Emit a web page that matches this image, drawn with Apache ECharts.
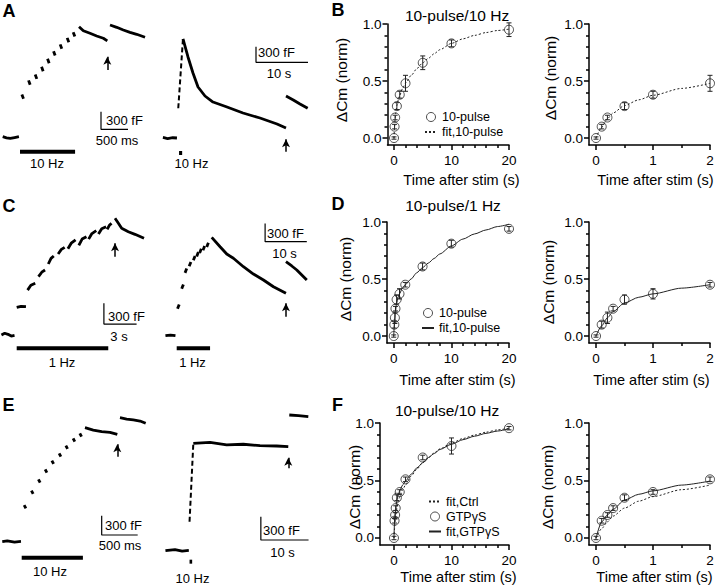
<!DOCTYPE html>
<html><head><meta charset="utf-8">
<script src="https://cdn.jsdelivr.net/npm/echarts@6/dist/echarts.min.js"></script>
<style>html,body{margin:0;padding:0;background:#fff}#c{width:720px;height:588px}</style>
</head><body><div id="c"></div>
<script>
// ================= DATA =================
// Normalized ΔCm vs time after stim (s)
const bTime = [0, 0.1, 0.2, 0.5, 1, 2, 5, 10, 20];
const bMean = [0, 0.10, 0.18, 0.28, 0.38, 0.48, 0.66, 0.83, 0.95];
const bErr  = [0.01, 0.02, 0.02, 0.03, 0.03, 0.07, 0.06, 0.03, 0.06];
const bFitTime = [0, 0.1, 0.2, 0.3, 0.5, 0.75, 1, 1.5, 2, 3, 4, 5, 6, 7, 8, 10, 12, 14, 16, 18, 20];
const bFitVal  = [0, 0.095, 0.17, 0.22, 0.285, 0.335, 0.375, 0.435, 0.48, 0.55, 0.61, 0.66, 0.70, 0.74, 0.775, 0.83, 0.87, 0.90, 0.925, 0.943, 0.955];

const dTime = [0, 0.1, 0.2, 0.3, 0.5, 1, 2, 5, 10, 20];
const dMean = [0, 0.10, 0.16, 0.24, 0.32, 0.37, 0.45, 0.61, 0.81, 0.94];
const dErr  = [0.01, 0.03, 0.05, 0.02, 0.04, 0.045, 0.02, 0.03, 0.03, 0.02];
const dFitTime = [0, 0.1, 0.2, 0.3, 0.5, 0.75, 1, 1.5, 2, 3, 4, 5, 6, 7, 8, 10, 12, 14, 16, 18, 20];
const dFitVal  = [0, 0.09, 0.16, 0.215, 0.29, 0.34, 0.37, 0.42, 0.45, 0.50, 0.555, 0.60, 0.64, 0.68, 0.72, 0.79, 0.85, 0.895, 0.93, 0.96, 0.98];

const fTime = [0, 0.1, 0.2, 0.3, 0.5, 1, 2, 5, 10, 20];
const fMean = [0, 0.15, 0.20, 0.26, 0.35, 0.40, 0.51, 0.70, 0.80, 0.955];
const fErr  = [0.015, 0.02, 0.02, 0.02, 0.025, 0.02, 0.02, 0.02, 0.07, 0.015];
const fCtrlFitTime = [0, 0.1, 0.2, 0.3, 0.5, 0.75, 1, 1.5, 2, 3, 4, 5, 6, 7, 8, 10, 12, 14, 16, 18, 20];
const fCtrlFitVal  = [0, 0.082, 0.14, 0.19, 0.26, 0.32, 0.36, 0.42, 0.46, 0.54, 0.60, 0.655, 0.70, 0.74, 0.775, 0.825, 0.865, 0.895, 0.92, 0.94, 0.955];
const fGtpFitTime  = [0, 0.1, 0.2, 0.3, 0.5, 0.75, 1, 1.5, 2, 3, 4, 5, 6, 7, 8, 10, 12, 14, 16, 18, 20];
const fGtpFitVal   = [0, 0.14, 0.20, 0.25, 0.33, 0.38, 0.41, 0.46, 0.495, 0.555, 0.61, 0.655, 0.70, 0.735, 0.77, 0.815, 0.855, 0.885, 0.91, 0.93, 0.95];

// Tick labels
const xTicksLong = [0, 10, 20];
const xMinorLong = [2, 4, 6, 8, 12, 14, 16, 18];
const xTicksShort = [0, 1, 2];
const xMinorShort = [0.5, 1.5];
const yTicks = [0, 0.5, 1];
const yMinor = [0.1, 0.2, 0.3, 0.4, 0.6, 0.7, 0.8, 0.9];

// Capacitance traces: segments of [time (s), ΔC (fF)]
const aLeftTrace = [
  [[-0.32, 5], [-0.25, -15], [-0.18, -25], [-0.1, -10], [-0.02, 5]],
  [[0.035, 720], [0.065, 650]],
  [[0.158, 960], [0.188, 885]],
  [[0.281, 1060], [0.311, 985]],
  [[0.399, 1190], [0.429, 1115]],
  [[0.510, 1325], [0.540, 1250]],
  [[0.621, 1455], [0.651, 1380]],
  [[0.744, 1570], [0.774, 1495]],
  [[0.874, 1680], [0.904, 1605]],
  [[0.985, 1775], [1.015, 1705]],
  [[1.093, 1870], [1.173, 1802], [1.296, 1758], [1.420, 1712], [1.543, 1673], [1.617, 1630]],
  [[1.667, 1898], [1.791, 1859], [1.913, 1814], [2.037, 1774], [2.161, 1741], [2.315, 1690]]
];
const aRightTrace = [
  [[-2.9, 10], [-2, -10], [-1, 5], [-0.2, 0]],
  [[0.96, 1893], [1.92, 1549], [2.88, 1243], [3.85, 975], [5.19, 803], [6.73, 688], [9.42, 593], [12.5, 478], [15.77, 382], [19.04, 268], [20.77, 191]],
  [[20.77, 803], [22.17, 727], [23.46, 650], [24.94, 568]]
];
const aRightRise = [[0.05, 568], [0.95, 1887]];
const cLeftTrace = [
  [[-1.4, 0], [-1.1, 25], [-0.8, 10], [-0.5, -15], [-0.2, -5]],
  [[0.0, 400], [0.4, 415], [0.85, 410]],
  [[1.0, 650], [1.3, 720], [1.7, 750]],
  [[2.0, 845], [2.3, 910], [2.6, 942]],
  [[2.9, 1029], [3.15, 1110], [3.4, 1145]],
  [[3.8, 1174], [4.1, 1240], [4.4, 1271]],
  [[4.7, 1250], [5.0, 1330], [5.4, 1377]],
  [[5.7, 1300], [6.0, 1390], [6.4, 1425]],
  [[6.6, 1390], [6.9, 1470], [7.3, 1512]],
  [[7.5, 1464], [7.8, 1540], [8.2, 1570]],
  [[8.3, 1530], [8.5, 1590], [8.7, 1618]],
  [[9.02, 1691], [9.33, 1619], [9.63, 1546], [10.24, 1497], [10.85, 1459], [11.68, 1401]]
];
const cRightTrace = [
  [[-2.7, 0], [-1.5, 10], [-0.3, 0]],
  [[0.2, 440], [0.6, 510]],
  [[1.2, 770], [1.6, 840]],
  [[2.0, 1030], [2.4, 1100]],
  [[3.0, 1140], [3.4, 1210]],
  [[4.0, 1235], [4.4, 1305]],
  [[4.8, 1300], [5.2, 1370]],
  [[5.5, 1355], [5.9, 1425]],
  [[6.3, 1400], [6.7, 1470]],
  [[7.2, 1455], [7.6, 1525]],
  [[8.4, 1613], [10.4, 1459], [12.0, 1339], [13.6, 1269], [16.0, 1131], [18.4, 1011], [20.8, 913], [23.2, 803], [26.2, 695]],
  [[26.2, 1213], [27.6, 1143], [28.8, 1077], [30.0, 995], [31.2, 913]]
];
const eLeftTrace = [
  [[-0.27, 0], [-0.2, 12], [-0.1, -5], [-0.01, 5]],
  [[0.034, 568], [0.058, 518]],
  [[0.135, 792], [0.159, 742]],
  [[0.232, 968], [0.256, 918]],
  [[0.326, 1123], [0.350, 1073]],
  [[0.419, 1258], [0.443, 1208]],
  [[0.520, 1371], [0.544, 1321]],
  [[0.613, 1491], [0.637, 1441]],
  [[0.714, 1604], [0.738, 1554]],
  [[0.807, 1682], [0.831, 1632]],
  [[0.879, 1770], [0.994, 1734], [1.111, 1708], [1.226, 1699], [1.328, 1668]],
  [[1.365, 1925], [1.458, 1905], [1.55, 1890], [1.643, 1874], [1.722, 1839]]
];
const eRightTrace = [
  [[-5, 0], [-3, 15], [-1.5, -5], [-0.1, 5]],
  [[0.84, 1380], [4.34, 1393], [7.84, 1359], [11.32, 1368], [14.82, 1350], [18.32, 1346], [20.75, 1337]],
  [[20.96, 1744], [22.9, 1735], [24.95, 1722]]
];
const eRightRise = [[0.05, 373], [0.84, 1375]];

// Scale bars [[t, Ctop], [t, Cbottom], [t+Δt, Cbottom]]
const aLeftScale = [[1.5, 430], [1.5, 130], [2.0, 130]];
const aRightScale = [[15, 1747], [15, 1447], [25, 1447]];
const cLeftScale = [[8, 459], [8, 159], [11, 159]];
const cRightScale = [[21.2, 1841], [21.2, 1541], [31.2, 1541]];
const eLeftScale = [[1.111, 404], [1.111, 104], [1.611, 104]];
const eRightScale = [[15, 437.5], [15, 137.5], [25, 137.5]];
// Stimulus bars [[start, C], [end, C]]
const aLeftStim = [[0, -249], [1.02, -249]];
const aRightStim = [[0.2, -287], [0.8, -287]];
const cLeftStim = [[0, -193], [8.4, -193]];
const cRightStim = [[0, -207], [8, -207]];
const eLeftStim = [[0, -248], [0.85, -248]];
const eRightStim = [[0.05, -141], [0.6, -141]];
// Arrows [t, Cfrom, Cto]
const aLeftArrow = [1.617, 1136, 1361];
const aRightArrow = [20.77, -262, -25];
const cLeftArrow = [9.02, 1135, 1329];
const cRightArrow = [26.2, 311, 531];
const eLeftArrow = [1.328, 1320, 1512];
const eRightArrow = [20.75, 1059, 1195];

// ================= BUILD =================
const FONT = '"Liberation Sans", Arial, Helvetica, sans-serif';
const grids = [], xAxes = [], yAxes = [], series = [], graphics = [], legends = [];

function addTracePanel(s, trace, scale, stim, arrow, rise) {
  const g = grids.length;
  grids.push({left: s.t0px + s.tmin * s.pxS, top: s.c0py - s.cmax * s.pxC,
              width: (s.tmax - s.tmin) * s.pxS, height: (s.cmax - s.cmin) * s.pxC});
  const xi = xAxes.length, yi = yAxes.length;
  xAxes.push({gridIndex: g, type: 'value', min: s.tmin, max: s.tmax, show: false});
  yAxes.push({gridIndex: g, type: 'value', min: s.cmin, max: s.cmax, show: false});
  const base = {type: 'line', xAxisIndex: xi, yAxisIndex: yi, symbol: 'none', silent: true, clip: false, animation: false, color: '#000'};
  trace.forEach(seg => series.push(Object.assign({}, base, {data: seg, lineStyle: {color: '#000', width: 2.8}})));
  if (rise) series.push(Object.assign({}, base, {data: rise, lineStyle: {color: '#000', width: 2, type: [5, 3]}}));
  series.push(Object.assign({}, base, {data: scale, lineStyle: {color: '#000', width: 1.2}}));
  series.push(Object.assign({}, base, {data: stim, lineStyle: {color: '#000', width: 4, cap: 'butt'},
    markLine: {silent: true, symbol: ['none', 'arrow'], symbolSize: [6, 8], label: {show: false},
      lineStyle: {color: '#000', width: 1.5, type: 'solid'},
      data: [[{coord: [arrow[0], arrow[1]]}, {coord: [arrow[0], arrow[2]]}]]}}));
}

addTracePanel({t0px: 20, pxS: 54, c0py: 137, pxC: 0.059, tmin: -0.35, tmax: 2.65, cmin: -500, cmax: 2100},
  aLeftTrace, aLeftScale, aLeftStim, aLeftArrow);
addTracePanel({t0px: 178, pxS: 5.2, c0py: 138, pxC: 0.0523, tmin: -3, tmax: 26, cmin: -500, cmax: 2100},
  aRightTrace, aRightScale, aRightStim, aRightArrow, aRightRise);
addTracePanel({t0px: 16.7, pxS: 10.9, c0py: 335, pxC: 0.069, tmin: -1.5, tmax: 12, cmin: -500, cmax: 1900},
  cLeftTrace, cLeftScale, cLeftStim, cLeftArrow);
addTracePanel({t0px: 176.7, pxS: 4.17, c0py: 335.7, pxC: 0.061, tmin: -3, tmax: 32, cmin: -500, cmax: 1900},
  cRightTrace, cRightScale, cRightStim, cRightArrow);
addTracePanel({t0px: 21.7, pxS: 72, c0py: 541.7, pxC: 0.0644, tmin: -0.3, tmax: 1.8, cmin: -400, cmax: 2000},
  eLeftTrace, eLeftScale, eLeftStim, eLeftArrow);
addTracePanel({t0px: 189.3, pxS: 4.77, c0py: 550.7, pxC: 0.0778, tmin: -5.5, tmax: 25.5, cmin: -400, cmax: 2000},
  eRightTrace, eRightScale, eRightStim, eRightArrow, eRightRise);

function axisPair(dim, g, range, major, minor, fmt) {
  const common = {gridIndex: g, type: 'value', min: range[0], max: range[1], splitLine: {show: false},
                  position: dim === 'x' ? 'bottom' : 'left'};
  const lab = {show: true, customValues: major, fontSize: 13.5, color: '#000', fontFamily: FONT,
               margin: dim === 'x' ? 8 : 6, formatter: fmt};
  return [
    Object.assign({}, common, {axisLine: {show: true, onZero: false, lineStyle: {color: '#000', width: 1.5}},
      axisTick: {show: true, customValues: major, length: 5, inside: false, lineStyle: {color: '#000', width: 1.5}},
      axisLabel: lab}),
    Object.assign({}, common, {axisLine: {show: false, onZero: false},
      axisTick: {show: true, customValues: minor, length: 3, inside: false, lineStyle: {color: '#000', width: 1.5}},
      axisLabel: {show: false}})
  ];
}

function errRender(params, api) {
  const x = api.value(0), lo = api.value(1), hi = api.value(2);
  const p1 = api.coord([x, lo]), p2 = api.coord([x, hi]);
  const w = 2.5, st = {stroke: '#222', lineWidth: 1};
  return {type: 'group', children: [
    {type: 'line', shape: {x1: p1[0], y1: p1[1], x2: p2[0], y2: p2[1]}, style: st},
    {type: 'line', shape: {x1: p1[0] - w, y1: p1[1], x2: p1[0] + w, y2: p1[1]}, style: st},
    {type: 'line', shape: {x1: p2[0] - w, y1: p2[1], x2: p2[0] + w, y2: p2[1]}, style: st}]};
}

function addPlot(box, xr, short, fits, pts, key) {
  const g = grids.length;
  grids.push(box);
  const xi = xAxes.length, yi = yAxes.length;
  xAxes.push(...axisPair('x', g, xr, short ? xTicksShort : xTicksLong, short ? xMinorShort : xMinorLong, v => String(v)));
  yAxes.push(...axisPair('y', g, [-0.061, 1], yTicks, yMinor, v => v.toFixed(1)));
  const lim = short ? 2 : 20;
  fits.forEach(f => {
    const data = [];
    f.t.forEach((t, i) => { if (t <= lim) data.push([t, f.v[i]]); });
    series.push({type: 'line', name: key + '|' + f.name, xAxisIndex: xi, yAxisIndex: yi, data, color: '#222',
      smooth: 0.25, smoothMonotone: 'x', symbol: 'none', silent: true, animation: false,
      lineStyle: {color: '#222', width: 1, type: f.dash ? [2, 2] : 'solid'}});
  });
  const errData = [], ptData = [];
  pts.t.forEach((t, i) => {
    if (t <= lim) { errData.push([t, pts.m[i] - pts.e[i], pts.m[i] + pts.e[i]]); ptData.push([t, pts.m[i]]); }
  });
  series.push({type: 'custom', xAxisIndex: xi, yAxisIndex: yi, renderItem: errRender, data: errData,
    encode: {x: 0, y: [1, 2]}, silent: true, animation: false});
  series.push({type: 'scatter', name: key + '|' + pts.name, xAxisIndex: xi, yAxisIndex: yi, data: ptData,
    symbol: 'circle', symbolSize: 9, silent: true, animation: false, color: '#222',
    itemStyle: {color: 'rgba(255,255,255,0)', borderColor: '#222', borderWidth: 1}});
}

const bFits = [{name: 'fit,10-pulse', t: bFitTime, v: bFitVal, dash: true}];
const bPts = {name: '10-pulse', t: bTime, m: bMean, e: bErr};
const dFits = [{name: 'fit,10-pulse', t: dFitTime, v: dFitVal, dash: false}];
const dPts = {name: '10-pulse', t: dTime, m: dMean, e: dErr};
const fFits = [{name: 'fit,Ctrl', t: fCtrlFitTime, v: fCtrlFitVal, dash: true},
               {name: 'fit,GTPγS', t: fGtpFitTime, v: fGtpFitVal, dash: false}];
const fPts = {name: 'GTPγS', t: fTime, m: fMean, e: fErr};

addPlot({left: 387.5, top: 24, width: 121.5, height: 121}, [-1.13, 20], false, bFits, bPts, 'B');
addPlot({left: 589, top: 24, width: 121, height: 121}, [-0.123, 2], true, bFits, bPts, 'B');
addPlot({left: 387, top: 222, width: 122, height: 121}, [-1.17, 20], false, dFits, dPts, 'D');
addPlot({left: 589, top: 222, width: 121, height: 121}, [-0.123, 2], true, dFits, dPts, 'D');
addPlot({left: 380, top: 423, width: 129, height: 122}, [-2.43, 20], false, fFits, fPts, 'F');
addPlot({left: 589, top: 423, width: 121, height: 122}, [-0.123, 2], true, fFits, fPts, 'F');

function legend(left, top, items) {
  legends.push({left, top, orient: 'vertical', itemWidth: 12, itemHeight: 9, itemGap: 1, padding: 0,
    selectedMode: false, formatter: n => n.split('|')[1],
    data: items.map(it => it[1] ? {name: it[0], itemStyle: {opacity: 0}}
      : {name: it[0], itemStyle: {color: 'rgba(255,255,255,0)', borderColor: '#222', borderWidth: 1}}),
    textStyle: {fontSize: 12.5, fontFamily: FONT, color: '#000', lineHeight: 14}});
}
legend(424, 110, [['B|10-pulse', false], ['B|fit,10-pulse', true]]);
legend(421, 306, [['D|10-pulse', false], ['D|fit,10-pulse', true]]);
legend(428, 494.5, [['F|fit,Ctrl', true], ['F|GTPγS', false], ['F|fit,GTPγS', true]]);

function txt(x, y, s, size, o) {
  o = o || {};
  graphics.push({type: 'text', x, y, rotation: o.rot || 0, silent: true,
    style: {text: s, fontSize: size, fontFamily: FONT, fontWeight: o.bold ? 'bold' : 'normal', fill: '#000',
            align: o.align || 'center', verticalAlign: 'middle'}});
}
// Panel letters
txt(9, 11, 'A', 18, {bold: true}); txt(338, 10, 'B', 18, {bold: true});
txt(9, 206, 'C', 18, {bold: true}); txt(338, 204, 'D', 18, {bold: true});
txt(8.5, 405, 'E', 18, {bold: true}); txt(337.5, 405, 'F', 18, {bold: true});
// Plot titles
txt(457, 15, '10-pulse/10 Hz', 15.5); txt(453, 205, '10-pulse/1 Hz', 15.5); txt(447, 410, '10-pulse/10 Hz', 15.5);
// Axis titles
const ROT = Math.PI / 2;
[[341.5, 80], [550, 78], [345, 279], [548, 282], [354.5, 487], [547, 487]].forEach(p => txt(p[0], p[1], 'ΔCm (norm)', 15.5, {rot: ROT}));
[[461.5, 180], [655.5, 180], [457.5, 380], [651.5, 380], [458.5, 577], [654.5, 577]].forEach(p => txt(p[0], p[1], 'Time after stim (s)', 14.5));
// Trace annotations
txt(106, 120, '300 fF', 13, {align: 'left'}); txt(117, 140, '500 ms', 13); txt(47, 163, '10 Hz', 13);
txt(258, 52, '300 fF', 13, {align: 'left'}); txt(279, 73, '10 s', 13); txt(191.5, 163, '10 Hz', 13);
txt(108, 316, '300 fF', 13, {align: 'left'}); txt(119, 336, '3 s', 13); txt(62, 362, '1 Hz', 13);
txt(267, 233, '300 fF', 13, {align: 'left'}); txt(284.5, 253, '10 s', 13); txt(192.5, 362, '1 Hz', 13);
txt(105, 525, '300 fF', 13, {align: 'left'}); txt(120, 545, '500 ms', 13); txt(50, 571, '10 Hz', 13);
txt(263, 530, '300 fF', 13, {align: 'left'}); txt(282.5, 552, '10 s', 13); txt(192.5, 578, '10 Hz', 13);

const chart = echarts.init(document.getElementById('c'), null, {renderer: 'svg', width: 720, height: 588});
chart.setOption({backgroundColor: '#fff', animation: false, grid: grids, xAxis: xAxes, yAxis: yAxes,
  series, legend: legends, graphic: graphics});
</script></body></html>
